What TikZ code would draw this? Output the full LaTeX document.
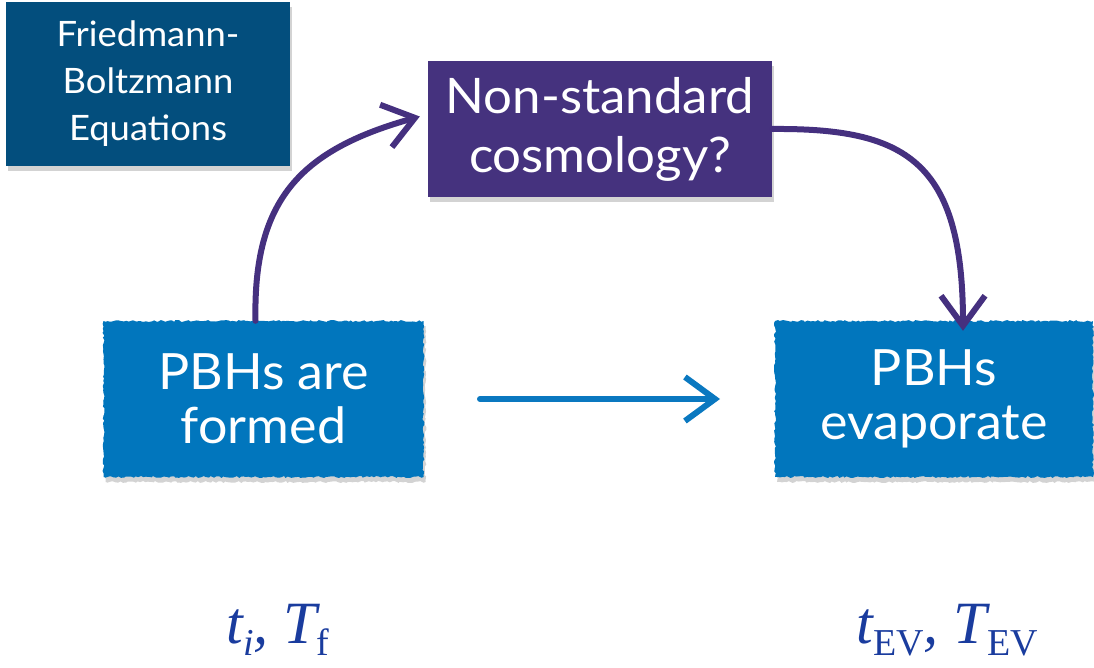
\documentclass[tikz,border=0pt]{standalone}
\usepackage{fontspec}
\setmainfont{Lato}[FakeStretch=1.04]
\newfontfamily\tms{Liberation Serif}
\usetikzlibrary{arrows.meta,shadows,decorations.pathmorphing}
\definecolor{fbblue}{HTML}{034E7D}
\definecolor{nspurple}{HTML}{45327E}
\definecolor{pbhblue}{HTML}{0176BD}
\definecolor{arrpurple}{HTML}{45307F}
\definecolor{arrblue}{HTML}{0A78C0}
\definecolor{mathblue}{HTML}{1A3C9E}
\newcommand{\sbs}[1]{\raisebox{-12pt}{\fontsize{38}{38}\selectfont #1}}
\tikzset{
  box/.style={rectangle, inner sep=0pt, text=white, align=center,
    drop shadow={opacity=0.35, shadow xshift=2pt, shadow yshift=-5pt}},
  roughbox/.style={box, decorate, decoration={random steps, segment length=2.5pt, amplitude=1pt}},
  chalk/.style={line width=6pt, line cap=round,
    -{Straight Barb[length=30pt, width=44pt, line width=6pt]}},
  mathlbl/.style={text=mathblue, font=\tms\fontsize{60}{60}\selectfont, inner sep=0pt}
}
\begin{document}
\begin{tikzpicture}[x=1pt,y=-1pt]
\useasboundingbox (0,0) rectangle (1094,668);
\node[box, fill=fbblue, minimum width=284pt, minimum height=164pt,
  font=\fontsize{35}{47}\selectfont] (fb) at (148,84) {Friedmann-\\Boltzmann\\Equations};
\node[box, fill=nspurple, minimum width=344pt, minimum height=136pt,
  font=\fontsize{49}{59}\selectfont] (ns) at (600,129.5) {Non-standard\\cosmology?};
\node[roughbox, fill=pbhblue, minimum width=320pt, minimum height=156pt,
  font=\fontsize{50}{54}\selectfont] (formed) at (263.5,399) {PBHs are\\formed};
\node[roughbox, fill=pbhblue, minimum width=318pt, minimum height=156pt,
  font=\fontsize{50}{54}\selectfont] (evap) at (934,399) {PBHs\\evaporate};
\node[mathlbl, anchor=base] (ti) at (278,643) {\itshape t\sbs{i}, T\sbs{\upshape f}};
\node[mathlbl, anchor=base] (tev) at (947,643) {\itshape t\sbs{\upshape EV}, T\sbs{\upshape EV}};
\coordinate (hs) at (480,399);
\coordinate (he) at (720,399);
\draw[chalk, arrblue] (hs) -- (he);
\draw[chalk, arrpurple] ([xshift=-8pt]formed.north) .. controls (253,200) and (300,150) .. ([xshift=-8pt,yshift=13pt]ns.west);
\draw[chalk, arrpurple] ([yshift=0.5pt]ns.east) .. controls (905,128) and (963,160) .. ([xshift=29pt,yshift=-10pt]evap.north);
\end{tikzpicture}
\end{document}
